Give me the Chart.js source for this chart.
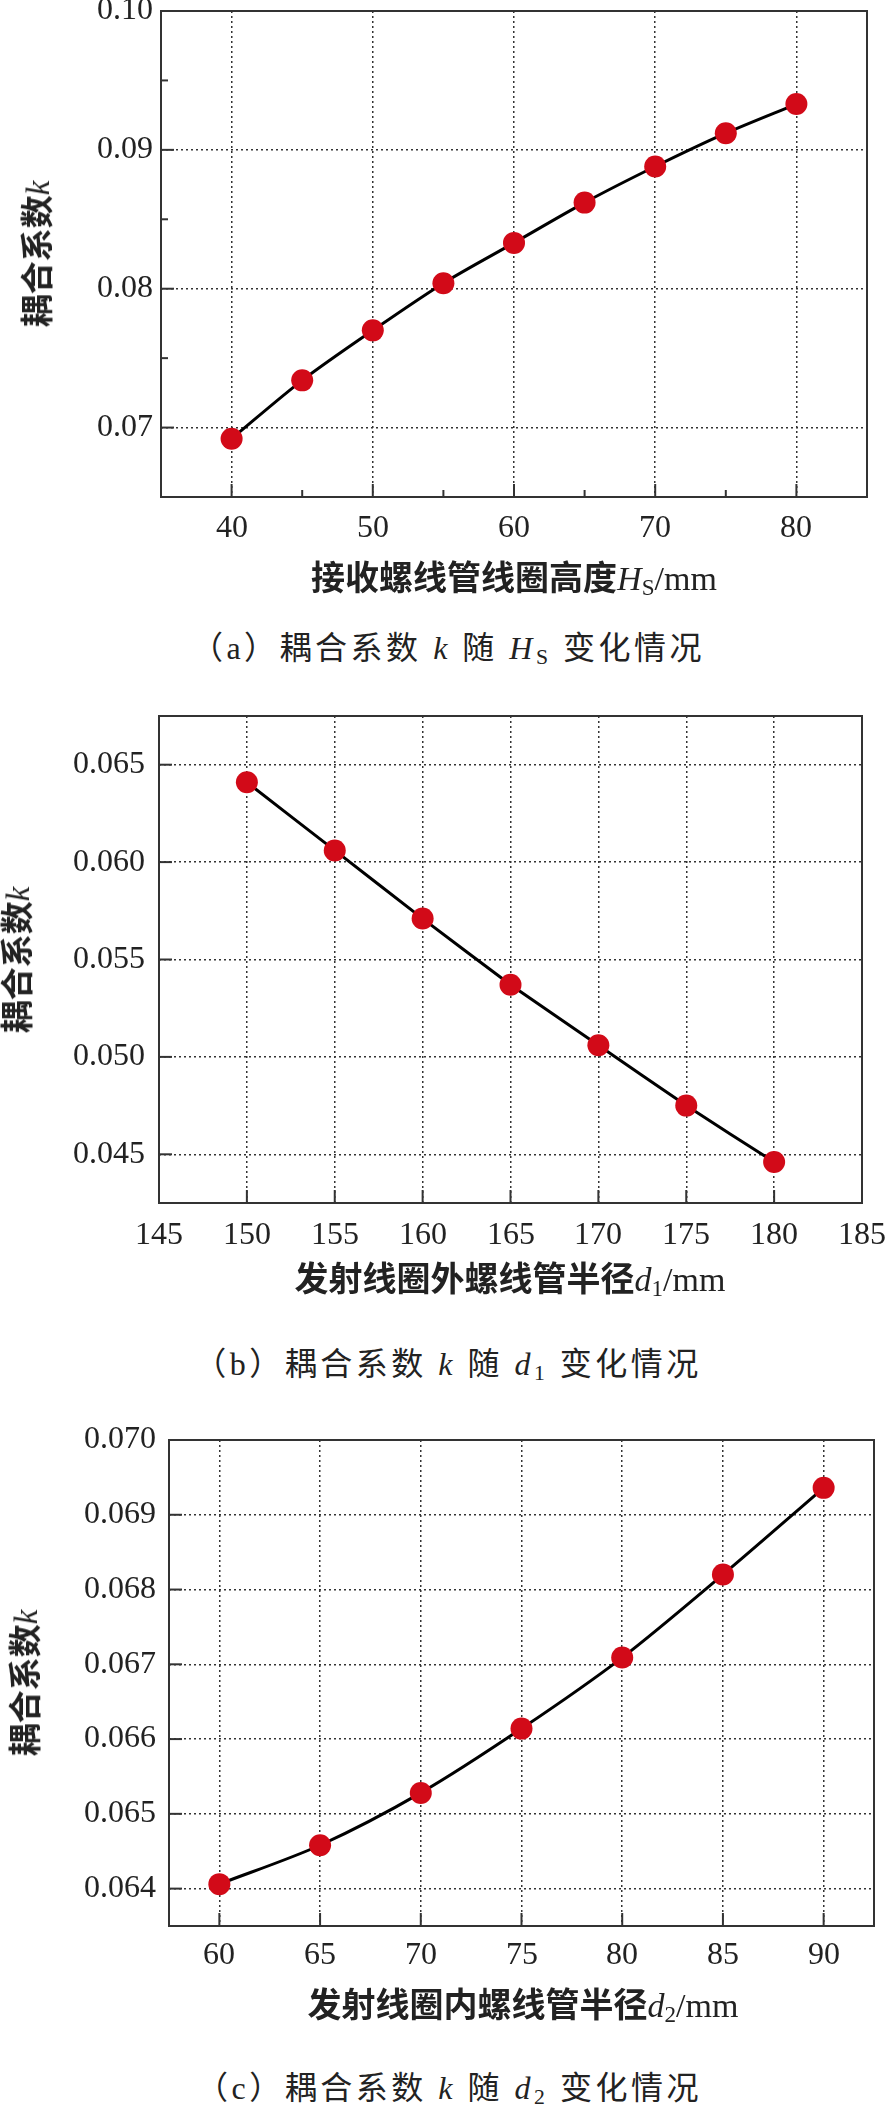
<!DOCTYPE html>
<html lang="zh-CN">
<head>
<meta charset="utf-8">
<title>耦合系数k变化情况</title>
<script src="https://cdn.jsdelivr.net/npm/chart.js@4.4.1/dist/chart.umd.min.js"></script>
<style>
  @font-face { font-family: "TickSerif"; src: local("Liberation Serif"), local("LiberationSerif"), local("Times New Roman"); }
  html, body { margin: 0; padding: 0; background: #fff; }
  body { position: relative; width: 885px; height: 2106px; overflow: hidden;
         font-family: "Liberation Serif", "Noto Sans CJK SC", serif; color: #222; }
  canvas { position: absolute; left: 0; }
  .t { position: absolute; white-space: nowrap; line-height: 1; transform: translate(-50%, -50%); }
  .yt { font-size: 33px; transform: translate(-50%, -50%) rotate(-90deg); }
  .xt { font-size: 34px; }
  .cap { font-size: 32px; letter-spacing: 3.5px; }
  b { font-family: "Noto Sans CJK SC", sans-serif; font-weight: bold; }
  i { font-style: italic; font-weight: normal; }
  sub { font-size: 0.68em; vertical-align: -0.25em; line-height: 0; font-weight: normal; }
  .warm { position: absolute; left: -999px; top: 0; font-family: "TickSerif"; font-size: 32px; }
</style>
</head>
<body>

<canvas id="chartA" width="885" height="560" style="top:0px"></canvas>
<canvas id="chartB" width="885" height="560" style="top:700px"></canvas>
<canvas id="chartC" width="885" height="560" style="top:1420px"></canvas>
<span class="warm">0.0123456789</span>

<!-- axis titles and captions -->
<div class="t yt" style="left:37px;top:254px"><b>耦合系数</b><i>k</i></div>
<div class="t xt" style="left:514px;top:577px"><b>接收螺线管线圈高度</b><i>H</i><sub>S</sub>/mm</div>
<div class="t cap" style="left:448px;top:648px">（a）耦合系数 <i>k</i> 随 <i>H</i><sub>S</sub> 变化情况</div>

<div class="t yt" style="left:17px;top:960px"><b>耦合系数</b><i>k</i></div>
<div class="t xt" style="left:510px;top:1278px"><b>发射线圈外螺线管半径</b><i>d</i><sub>1</sub>/mm</div>
<div class="t cap" style="left:448px;top:1364px">（b）耦合系数 <i>k</i> 随 <i>d</i><sub>1</sub> 变化情况</div>

<div class="t yt" style="left:25px;top:1683px"><b>耦合系数</b><i>k</i></div>
<div class="t xt" style="left:523px;top:2004px"><b>发射线圈内螺线管半径</b><i>d</i><sub>2</sub>/mm</div>
<div class="t cap" style="left:449px;top:2088px">（c）耦合系数 <i>k</i> 随 <i>d</i><sub>2</sub> 变化情况</div>

<script>
// (a) k vs Hs
const hsValues = [40, 45, 50, 55, 60, 65, 70, 75, 80];
const kHs = [0.0692, 0.0734, 0.0770, 0.0804, 0.0833, 0.0862, 0.0888, 0.0912, 0.0933];
const hsTicks = [40, 50, 60, 70, 80];
const hsMinor = [45, 55, 65, 75];
const kHsTicks = [0.07, 0.08, 0.09, 0.10];
const kHsMinor = [0.075, 0.085, 0.095];
const kHsLabels = ['0.07', '0.08', '0.09', '0.10'];

// (b) k vs d1
const d1Values = [150, 155, 160, 165, 170, 175, 180];
const kD1 = [0.0641, 0.0606, 0.0571, 0.0537, 0.0506, 0.0475, 0.0446];
const d1Ticks = [145, 150, 155, 160, 165, 170, 175, 180, 185];
const kD1Ticks = [0.045, 0.050, 0.055, 0.060, 0.065];
const kD1Labels = ['0.045', '0.050', '0.055', '0.060', '0.065'];

// (c) k vs d2
const d2Values = [60, 65, 70, 75, 80, 85, 90];
const kD2 = [0.06406, 0.06458, 0.06528, 0.06614, 0.06709, 0.06820, 0.06936];
const d2Ticks = [60, 65, 70, 75, 80, 85, 90];
const kD2Ticks = [0.064, 0.065, 0.066, 0.067, 0.068, 0.069, 0.070];
const kD2Labels = ['0.064', '0.065', '0.066', '0.067', '0.068', '0.069', '0.070'];

const tickFont = { family: "TickSerif, 'Liberation Serif', serif", size: 32 };
Chart.defaults.font.family = tickFont.family;

// frame + short inward tick marks
const frameTicks = {
  id: 'frameTicks',
  afterDatasetsDraw(chart, args, opts) {
    const { ctx, chartArea: a, scales: { x, y } } = chart;
    ctx.save();
    ctx.strokeStyle = '#333';
    ctx.lineWidth = 2;
    ctx.setLineDash([]);
    ctx.strokeRect(a.left, a.top, a.right - a.left, a.bottom - a.top);
    function xMarks(vals, len) {
      vals.forEach(v => {
        const px = x.getPixelForValue(v);
        ctx.beginPath(); ctx.moveTo(px, a.bottom); ctx.lineTo(px, a.bottom - len); ctx.stroke();
      });
    }
    function yMarks(vals, len) {
      vals.forEach(v => {
        const py = y.getPixelForValue(v);
        ctx.beginPath(); ctx.moveTo(a.left, py); ctx.lineTo(a.left + len, py); ctx.stroke();
      });
    }
    xMarks(opts.xMajor || [], 13);
    xMarks(opts.xMinor || [], 7);
    yMarks(opts.yMajor || [], 13);
    yMarks(opts.yMinor || [], 7);
    ctx.restore();
  }
};

function makeChart(id, c) {
  const ctx = document.getElementById(id).getContext('2d');
  return new Chart(ctx, {
    type: 'line',
    data: {
      datasets: [{
        data: c.xs.map((v, i) => ({ x: v, y: c.ys[i] })),
        borderColor: '#000',
        borderWidth: 3,
        tension: c.tension,
        pointRadius: 11,
        pointBorderWidth: 0,
        pointBackgroundColor: '#d20a18',
        clip: false
      }]
    },
    options: {
      responsive: false,
      animation: false,
      layout: { padding: { top: c.top, right: c.right, left: 0, bottom: 0 } },
      plugins: {
        legend: { display: false },
        tooltip: { enabled: false },
        frameTicks: { xMajor: c.xTicks, xMinor: c.xMinor, yMajor: c.yTicks, yMinor: c.yMinor }
      },
      scales: {
        x: {
          type: 'linear',
          min: c.xMin, max: c.xMax,
          afterBuildTicks: s => { s.ticks = c.xTicks.map(v => ({ value: v })); },
          afterFit: s => { s.height = c.xHeight; s.paddingLeft = 0; s.paddingRight = 0; },
          ticks: { font: tickFont, color: '#222', padding: c.xPad, maxRotation: 0, autoSkip: false,
                   callback: v => String(v) },
          grid: { color: '#333', lineWidth: 1.5, drawTicks: false, borderDash: [2, 3] },
          border: { display: false, dash: [2, 3] }
        },
        y: {
          type: 'linear',
          min: c.yMin, max: c.yMax,
          afterBuildTicks: s => { s.ticks = c.yTicks.map(v => ({ value: v })); },
          afterFit: s => { s.width = c.yWidth; s.paddingTop = 0; s.paddingBottom = 0; },
          ticks: { font: tickFont, color: '#222', padding: c.yPad, autoSkip: false,
                   callback: (v, i) => c.yLabels[i] },
          grid: { color: '#333', lineWidth: 1.5, drawTicks: false, borderDash: [2, 3] },
          border: { display: false, dash: [2, 3] }
        }
      }
    },
    plugins: [frameTicks]
  });
}

function drawAll() {
  makeChart('chartA', {
    xs: hsValues, ys: kHs, tension: 0.3,
    xMin: 35, xMax: 85, yMin: 0.065, yMax: 0.10,
    xTicks: hsTicks, xMinor: hsMinor, yTicks: kHsTicks, yMinor: kHsMinor, yLabels: kHsLabels,
    top: 11, right: 18, yWidth: 161, xHeight: 63, xPad: 12, yPad: 8
  });

  makeChart('chartB', {
    xs: d1Values, ys: kD1, tension: 0.1,
    xMin: 145, xMax: 185, yMin: 0.0425, yMax: 0.0675,
    xTicks: d1Ticks, xMinor: [], yTicks: kD1Ticks, yMinor: [], yLabels: kD1Labels,
    top: 16, right: 23, yWidth: 159, xHeight: 57, xPad: 13, yPad: 14
  });

  makeChart('chartC', {
    xs: d2Values, ys: kD2, tension: 0.3,
    xMin: 57.5, xMax: 92.5, yMin: 0.0635, yMax: 0.070,
    xTicks: d2Ticks, xMinor: [], yTicks: kD2Ticks, yMinor: [], yLabels: kD2Labels,
    top: 20, right: 7, yWidth: 169, xHeight: 54, xPad: 10, yPad: 13
  });
}

document.fonts.load("32px TickSerif").then(drawAll, drawAll);
</script>
</body>
</html>
